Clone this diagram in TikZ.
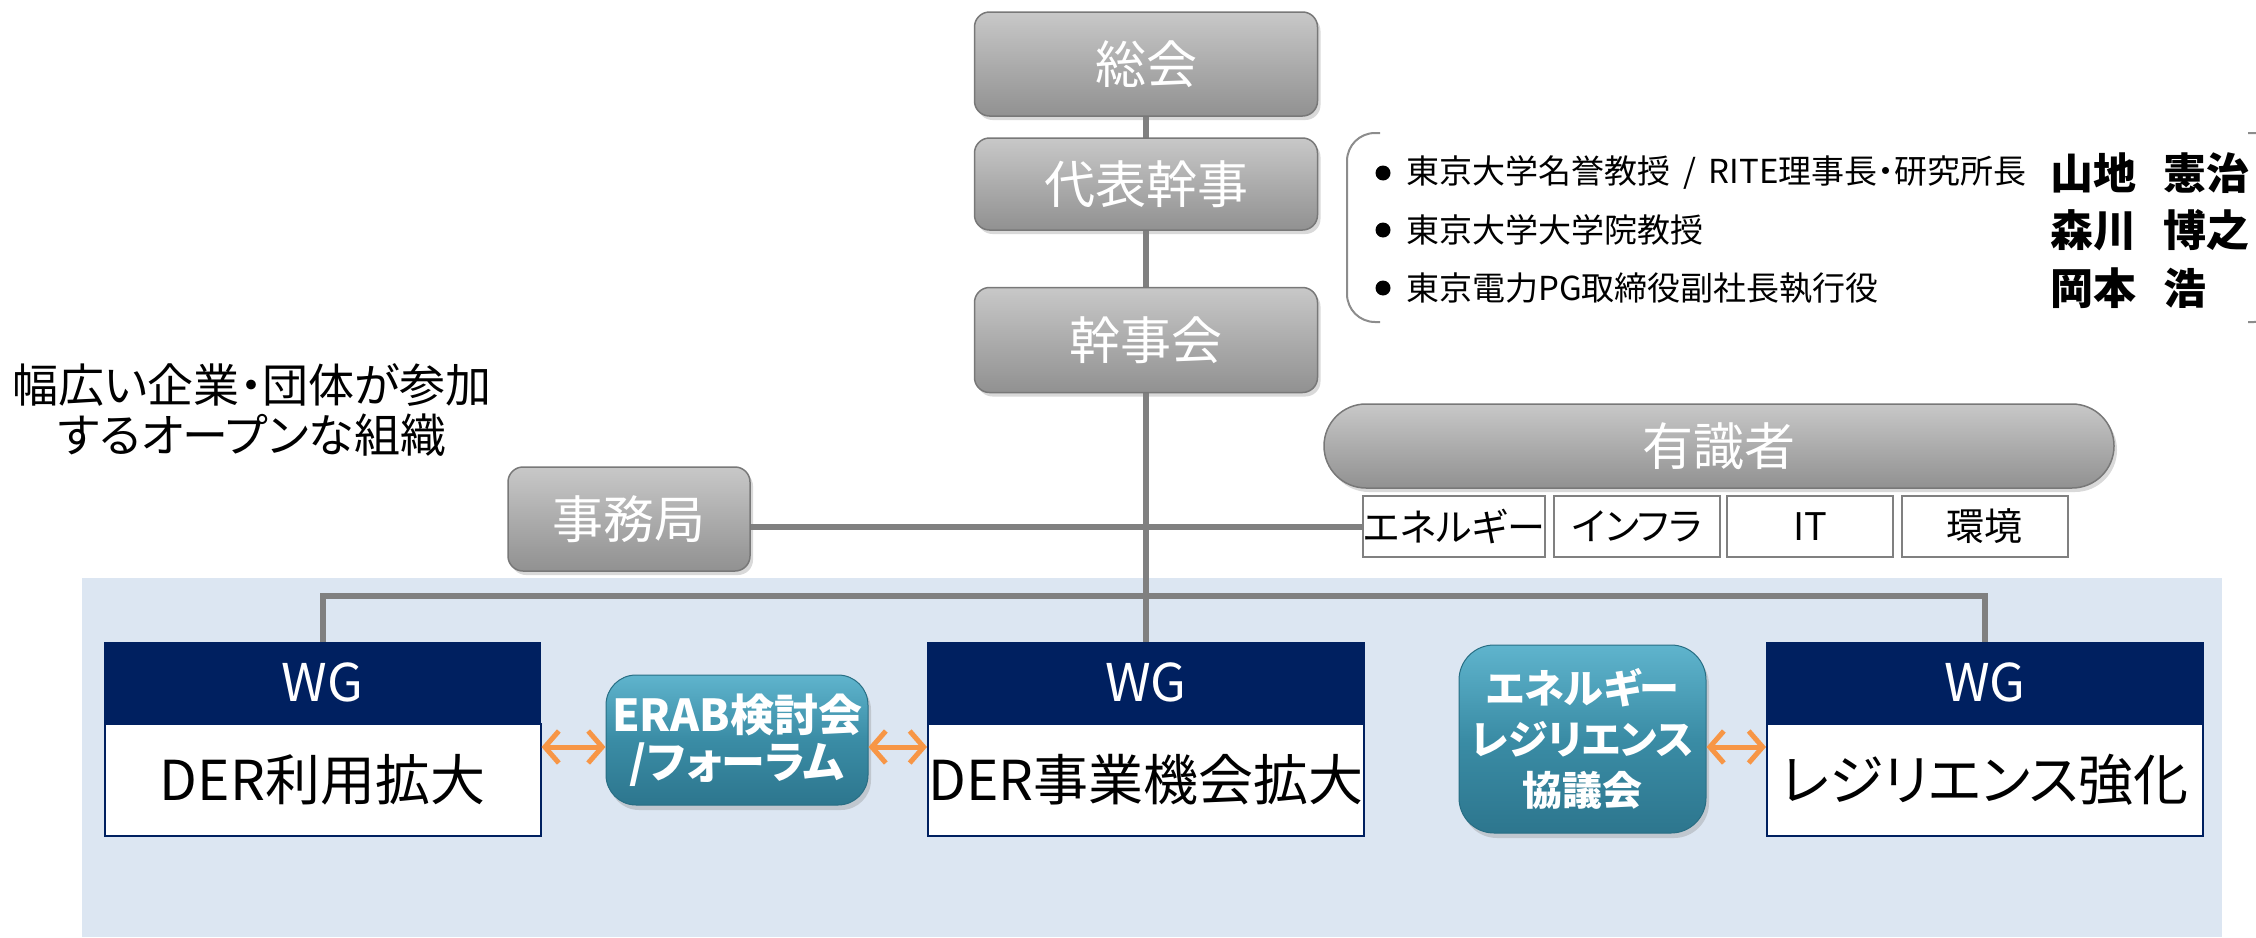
\documentclass[tikz,border=0pt]{standalone}
\usepackage{fontspec}
\setmainfont{Noto Sans CJK JP}[RawFeature=+palt]
\usetikzlibrary{arrows.meta,shadows,calc}
\definecolor{linegray}{RGB}{128,128,128}
\definecolor{graytop}{RGB}{200,200,200}
\definecolor{graymid}{RGB}{172,172,172}
\definecolor{graybot}{RGB}{145,145,145}
\definecolor{boxedge}{RGB}{120,120,120}
\definecolor{bgblue}{RGB}{220,230,242}
\definecolor{navy}{RGB}{0,32,96}
\definecolor{tealtop}{RGB}{95,180,205}
\definecolor{tealmid}{RGB}{58,140,165}
\definecolor{tealbot}{RGB}{45,118,142}
\definecolor{tealedge}{RGB}{40,110,132}
\definecolor{orange1}{RGB}{247,150,70}
\definecolor{catedge}{RGB}{128,128,128}
\definecolor{brgray}{RGB}{140,140,140}
\pgfdeclarelayer{bg}
\pgfdeclarelayer{lines}
\pgfsetlayers{bg,lines,main}
\tikzset{
  conn/.style={draw=linegray, line width=6pt},
  graybox/.style={rectangle, rounded corners=15pt, draw=boxedge, line width=1.5pt,
    top color=graytop, bottom color=graybot, middle color=graymid, text=white,
    font=\fontsize{51}{60}\selectfont, inner sep=0pt,
    drop shadow={shadow xshift=3pt, shadow yshift=-4pt, opacity=0.3}},
  catbox/.style={rectangle, fill=white, draw=catedge, line width=2pt, minimum height=61pt,
    inner sep=0pt, font=\fontsize{38}{44}\selectfont},
  wghead/.style={rectangle, fill=navy, draw=navy, line width=1.5pt, text=white,
    minimum width=436pt, minimum height=79pt, inner sep=0pt, font=\fontsize{52}{60}\selectfont},
  wgbody/.style={rectangle, fill=white, draw=navy, line width=2pt,
    minimum width=436pt, minimum height=112pt, inner sep=0pt, font=\fontsize{55}{60}\selectfont},
  tealbox/.style={rectangle, rounded corners=30pt, top color=tealtop, bottom color=tealbot,
    middle color=tealmid, draw=tealedge, line width=1pt, text=white, align=center, inner sep=0pt,
    drop shadow={shadow xshift=3pt, shadow yshift=-5pt, opacity=0.3}},
  orarr/.style={draw=orange1, line width=5pt,
    {Straight Barb[length=14pt,width=32pt]}-{Straight Barb[length=14pt,width=32pt]}},
  bulletdot/.style={circle, fill=black, minimum size=15pt, inner sep=0pt},
  listtxt/.style={anchor=west, inner sep=0pt, font=\fontsize{33}{38}\selectfont},
  nametxt/.style={anchor=west, inner sep=0pt, font=\bfseries\fontsize{43}{48}\selectfont},
  bracketline/.style={draw=brgray, line width=2pt, rounded corners=28pt},
}
\begin{document}
\begin{tikzpicture}[x=1pt,y=-1pt]
\useasboundingbox (0,0) rectangle (2256,937);
\begin{pgfonlayer}{bg}
  \fill[bgblue] (82,578) rectangle (2222,937);
\end{pgfonlayer}

% top hierarchy
\node[graybox, minimum width=343pt, minimum height=104pt] (soukai) at (1146,64) {総会};
\node[graybox, minimum width=343pt, minimum height=92pt] (daihyo) at (1146,184) {代表幹事};
\node[graybox, minimum width=343pt, minimum height=105pt] (kanjikai) at (1146,340) {幹事会};
\node[graybox, minimum width=242pt, minimum height=104pt] (jimu) at (629,519) {事務局};

% experts
\node[graybox, rounded corners=42pt, minimum width=790pt, minimum height=84pt] (yushiki) at (1719,446) {有識者};
\node[catbox, minimum width=180pt] (cat1) at (1454,526.5) {エネルギー};
\node[catbox, minimum width=166pt] (cat2) at (1637,526.5) {インフラ};
\node[catbox, minimum width=166pt] (cat3) at (1810,526.5) {IT};
\node[catbox, minimum width=166pt] (cat4) at (1984.5,526.5) {環境};

% left text
\node[font=\fontsize{46}{50}\selectfont, align=center, inner sep=0pt] (lefttxt) at (252,410)
  {幅広い企業・団体が参加\\するオープンな組織};

% people list
\draw[bracketline] (1380,133) -- (1347,133) -- (1347,322) -- (1380,322);
\draw[bracketline] (2248,133) -- (2282,133) -- (2282,322) -- (2248,322);
\node[bulletdot] (bu1) at (1383,173) {};
\node[bulletdot] (bu2) at (1383,230) {};
\node[bulletdot] (bu3) at (1383,288) {};
\node[listtxt] (t1) at (1406,173) {東京大学名誉教授 \,/\, RITE理事長・研究所長};
\node[listtxt] (t2) at (1406,230) {東京大学大学院教授};
\node[listtxt] (t3) at (1406,288) {東京電力PG取締役副社長執行役};
\node[nametxt] (n1a) at (2050,173) {山地};
\node[nametxt] (n1b) at (2163,173) {憲治};
\node[nametxt] (n2a) at (2050,230) {森川};
\node[nametxt] (n2b) at (2163,230) {博之};
\node[nametxt] (n3a) at (2050,288) {岡本};
\node[nametxt] (n3b) at (2163,288) {浩};

% WGs
\node[wghead] (wg1h) at (322.5,682.5) {WG};
\node[wgbody, anchor=north] (wg1b) at (wg1h.south) {DER利用拡大};
\node[wghead] (wg2h) at (1146,682.5) {WG};
\node[wgbody, anchor=north] (wg2b) at (wg2h.south) {DER事業機会拡大};
\node[wghead] (wg3h) at (1985,682.5) {WG};
\node[wgbody, anchor=north] (wg3b) at (wg3h.south) {レジリエンス強化};

% teal boxes
\node[tealbox, minimum width=262pt, minimum height=130pt, font=\bfseries\fontsize{44}{47}\selectfont] (erab) at (737,740)
  {ERAB検討会\\/フォーラム};
\node[tealbox, rounded corners=35pt, minimum width=247pt, minimum height=188pt, font=\bfseries\fontsize{40}{51}\selectfont] (kyogi) at (1582.5,739)
  {エネルギー\\レジリエンス\\協議会};

% arrows
\draw[orarr] ([yshift=-7pt]erab.west -| wg1b.east) -- ([yshift=-7pt]erab.west);
\draw[orarr] ([yshift=-7pt]erab.east) -- ([yshift=-7pt]erab.east -| wg2b.west);
\draw[orarr] ([yshift=-8pt]kyogi.east) -- ([yshift=-8pt]kyogi.east -| wg3b.west);

% connectors
\coordinate (bus) at (1146,596);
\begin{pgfonlayer}{lines}
  \draw[conn] (soukai.south) -- (wg2h.north);
  \draw[conn] (cat1.west -| jimu.east) -- (cat1.west);
  \draw[conn] (wg1h.north) |- (bus) -| (wg3h.north);
\end{pgfonlayer}
\end{tikzpicture}
\end{document}
